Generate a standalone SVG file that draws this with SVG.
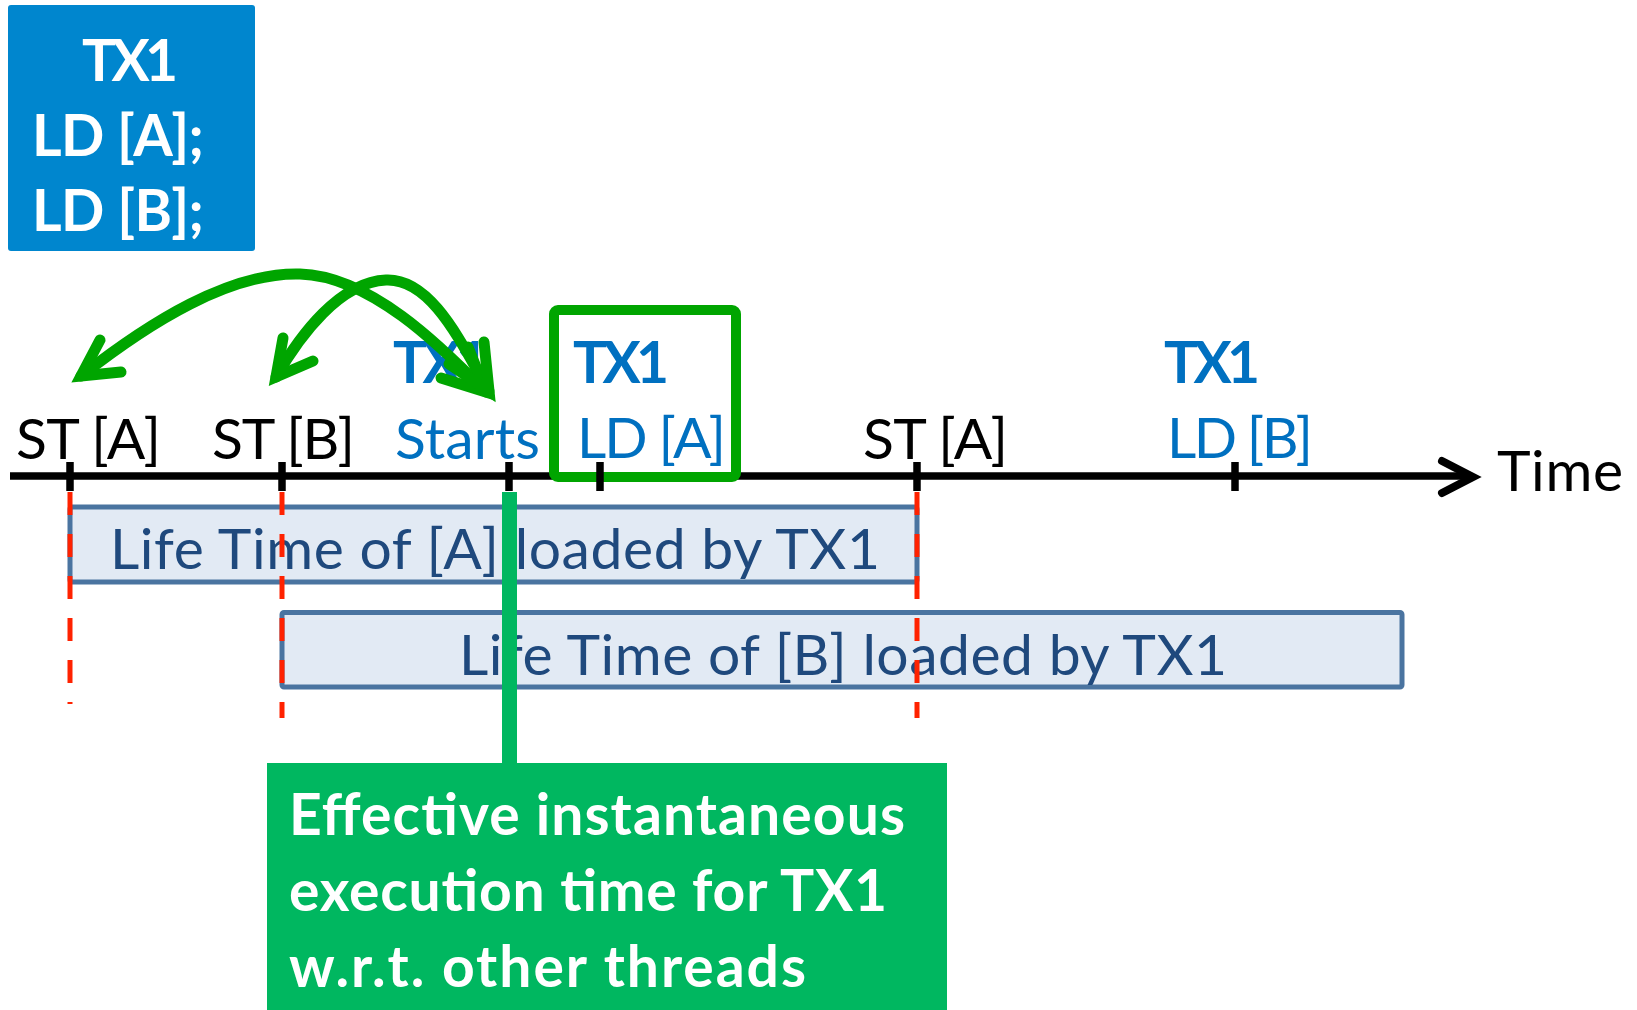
<svg xmlns="http://www.w3.org/2000/svg" width="1637" height="1010" viewBox="0 0 1637 1010">
  <style>
    text { font-family: Lato, "Open Sans", "Liberation Sans", sans-serif; font-size: 57px; }
    .b { font-weight: 700; }
    .blk { fill: #000; }
    .blue { fill: #0070C0; }
    .white { fill: #fff; }
    .life-text { fill: #1F497D; }
    .life-box { fill: #E2EAF4; stroke: #4A74A0; stroke-width: 5; }
    .tick { stroke: #000; stroke-width: 7.5; }
    .vdash { stroke: #FF2200; stroke-width: 5; stroke-dasharray: 23 19; fill: none; }
    .arc { fill: none; stroke: #00A500; stroke-width: 11; stroke-linecap: round; stroke-linejoin: miter; stroke-miterlimit: 10; }
  </style>

  <!-- transaction code block -->
  <g id="tx-code">
    <rect x="8" y="5" width="247" height="246" rx="3" fill="#0086CE"/>
    <text class="b white" x="82" y="81" textLength="96">TX1</text>
    <text class="b white" x="32" y="156" textLength="172">LD [A];</text>
    <text class="b white" x="32" y="231" textLength="172">LD [B];</text>
  </g>

  <!-- lifetime bars -->
  <g id="life-a">
    <rect class="life-box" x="70" y="507" width="847" height="75" rx="2"/>
    <text class="life-text" x="110" y="569" textLength="770">Life Time of [A] loaded by TX1</text>
  </g>
  <g id="life-b">
    <rect class="life-box" x="282" y="612.5" width="1120" height="74.5" rx="2"/>
    <text class="life-text" x="459" y="675" textLength="768">Life Time of [B] loaded by TX1</text>
  </g>

  <!-- dashed event markers -->
  <g id="event-markers">
    <line class="vdash" x1="70" y1="492" x2="70" y2="704"/>
    <line class="vdash" x1="282" y1="492" x2="282" y2="718"/>
    <line class="vdash" x1="917" y1="492" x2="917" y2="718"/>
  </g>

  <!-- time axis -->
  <g id="timeline">
    <line x1="10" y1="476" x2="1470" y2="476" stroke="#000" stroke-width="7.5"/>
    <polyline points="1442,461 1473,477 1442,493" fill="none" stroke="#000" stroke-width="8" stroke-linecap="round" stroke-linejoin="miter"/>
  </g>

  <!-- highlight around the first load -->
  <g id="ld-a-highlight">
    <rect x="554" y="310" width="182" height="167" rx="4" fill="none" stroke="#00A500" stroke-width="10"/>
  </g>

  <g id="ticks">
    <line class="tick" x1="70" y1="462" x2="70" y2="491"/>
    <line class="tick" x1="282" y1="462" x2="282" y2="491"/>
    <line class="tick" x1="509" y1="462" x2="509" y2="491"/>
    <line class="tick" x1="600" y1="462" x2="600" y2="491"/>
    <line class="tick" x1="917" y1="462" x2="917" y2="491"/>
    <line class="tick" x1="1235" y1="462" x2="1235" y2="491"/>
  </g>

  <!-- event labels -->
  <g id="st-a-1"><text class="blk" x="16" y="459" textLength="145">ST [A]</text></g>
  <g id="st-b"><text class="blk" x="212" y="459" textLength="143">ST [B]</text></g>
  <g id="tx1-starts">
    <text class="b blue" x="393" y="383" textLength="96">TX1</text>
    <text class="blue" x="395" y="459" textLength="145">Starts</text>
  </g>
  <g id="tx1-ld-a">
    <text class="b blue" x="573" y="383" textLength="96">TX1</text>
    <text class="blue" x="577" y="458" textLength="149">LD [A]</text>
  </g>
  <g id="st-a-2"><text class="blk" x="863" y="459" textLength="145">ST [A]</text></g>
  <g id="tx1-ld-b">
    <text class="b blue" x="1164" y="383" textLength="96">TX1</text>
    <text class="blue" x="1167" y="458" textLength="146">LD [B]</text>
  </g>
  <g id="time-label"><text class="blk" x="1497" y="491" textLength="126">Time</text></g>

  <!-- effective execution point -->
  <g id="effective-note">
    <line x1="509.5" y1="492" x2="509.5" y2="764" stroke="#00B760" stroke-width="15"/>
    <rect x="267" y="763" width="680" height="247" fill="#00B760"/>
    <text class="b white" x="289" y="835" textLength="616">Effective instantaneous</text>
    <text class="b white" x="289" y="911" textLength="598">execution time for TX1</text>
    <text class="b white" x="289" y="987" textLength="517">w.r.t. other threads</text>
  </g>

  <!-- curved connectors between the stores and the transaction start -->
  <g id="connectors">
    <path class="arc" d="M81,376 C150,322 230,272 300,274 S440,345 486,392"/>
    <path class="arc" d="M276,377 C300,335 340,282 386,280 S462,345 489,391"/>
    <path class="arc" d="M100,340 L81,376 L121,372"/>
    <path class="arc" d="M283,338 L276,377 L313,361"/>
    <path class="arc" d="M441,378 L486,392 L468,347"/>
    <path class="arc" d="M449,364 L489,391 L484,342"/>
  </g>
</svg>
